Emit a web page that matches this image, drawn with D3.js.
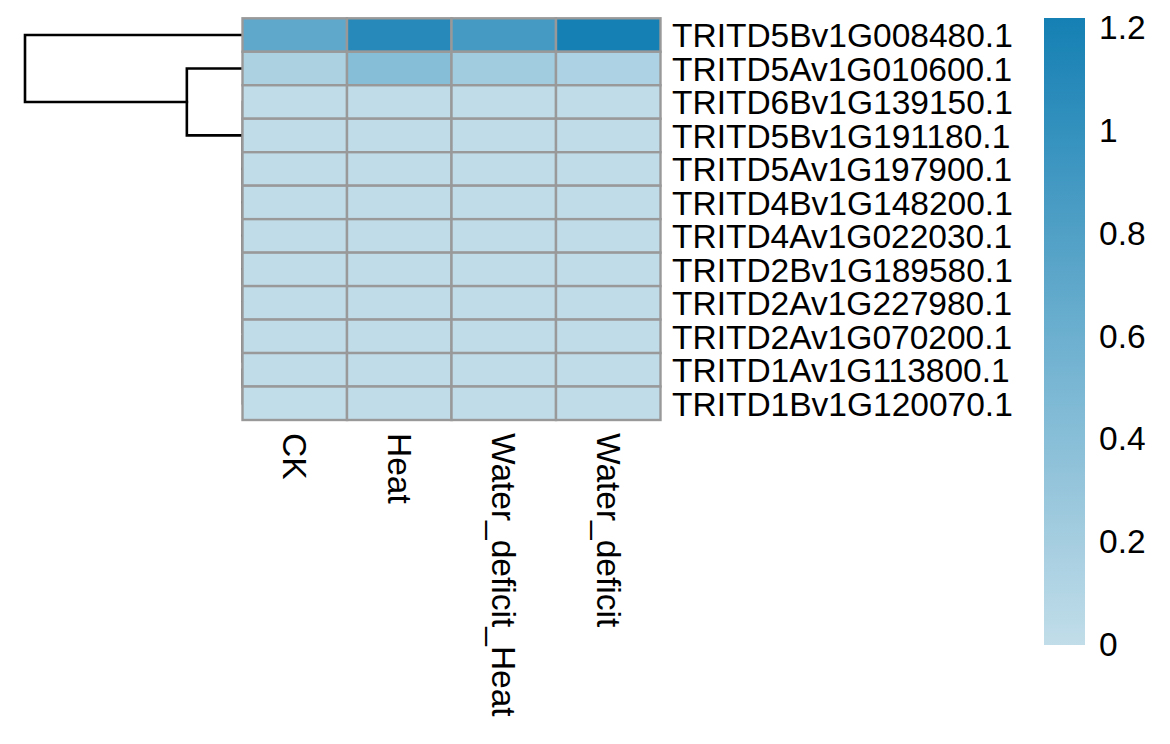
<!DOCTYPE html>
<html><head><meta charset="utf-8">
<script src="https://cdn.jsdelivr.net/npm/d3@7"></script>
<style>body{margin:0;background:#fff}text{font-family:"Liberation Sans",Arial,sans-serif;fill:#000}</style>
</head><body>
<svg id="c" width="1170" height="744"></svg>
<script>
const rowNames = [
  "TRITD5Bv1G008480.1","TRITD5Av1G010600.1","TRITD6Bv1G139150.1","TRITD5Bv1G191180.1",
  "TRITD5Av1G197900.1","TRITD4Bv1G148200.1","TRITD4Av1G022030.1","TRITD2Bv1G189580.1",
  "TRITD2Av1G227980.1","TRITD2Av1G070200.1","TRITD1Av1G113800.1","TRITD1Bv1G120070.1"
];
const colNames = ["CK","Heat","Water_deficit_Heat","Water_deficit"];
const values = [
  [0.69,1.10,0.88,1.22],
  [0.15,0.42,0.23,0.14],
  [0.01,0.01,0.01,0.01],
  [0.01,0.01,0.01,0.01],
  [0.01,0.01,0.01,0.01],
  [0.01,0.01,0.01,0.01],
  [0.01,0.01,0.01,0.01],
  [0.01,0.01,0.01,0.01],
  [0.01,0.01,0.01,0.01],
  [0.01,0.01,0.01,0.01],
  [0.01,0.01,0.01,0.01],
  [0.00,0.01,0.01,0.01]
];
// hclust-style merges: negative = leaf (1-based row), positive = earlier merge (1-based)
const rowMerges = [
  [-11,-12,0],[-10,1,0],[-9,2,0],[-8,3,0],[-7,4,0],[-6,5,0],[-5,6,0],[-4,7,0],[-3,8,0],
  [-2,9,0.51],[-1,10,1.98]
];
const legendTicks = [0,0.2,0.4,0.6,0.8,1,1.2];
const colorMin = 0, colorMax = 1.22;
const lowColor = "#c1dde9", highColor = "#1580b4";

const svg = d3.select("#c");
const x = d3.scaleBand().domain(colNames).range([242.5,660.5]);
const y = d3.scaleBand().domain(rowNames).range([18.3,420]);
const color = d3.scaleLinear().domain([colorMin,colorMax]).range([lowColor,highColor]).interpolate(d3.interpolateRgb).clamp(true);
const FS = 33.5;

// dendrogram (drawn first so the heatmap border covers zero-height branches)
const hx = d3.scaleLinear().domain([0,1.98]).range([243,25]);
const nodePos = [], nodeH = [];
function pos(id){ return id<0 ? y(rowNames[-id-1])+y.bandwidth()/2 : nodePos[id-1]; }
function hgt(id){ return id<0 ? 0 : nodeH[id-1]; }
const dg = svg.append("g").attr("fill","none").attr("stroke","#000").attr("stroke-width",2.6).attr("stroke-linecap","square");
rowMerges.forEach(([a,b,h])=>{
  const ya=pos(a), yb=pos(b);
  const path = d3.path();
  path.moveTo(hx(hgt(a)),ya); path.lineTo(hx(h),ya); path.lineTo(hx(h),yb); path.lineTo(hx(hgt(b)),yb);
  dg.append("path").attr("d",path.toString()).attr("stroke-linejoin","miter");
  nodePos.push((ya+yb)/2); nodeH.push(h);
});

// cells
const cells = [];
values.forEach((r,i)=>r.forEach((v,j)=>cells.push({r:rowNames[i],c:colNames[j],v})));
svg.append("g").selectAll("rect").data(cells).join("rect")
  .attr("x",d=>x(d.c)).attr("y",d=>y(d.r))
  .attr("width",x.bandwidth()).attr("height",y.bandwidth())
  .attr("fill",d=>color(d.v)).attr("stroke","#999999").attr("stroke-width",2.4);

// row labels
svg.append("g").selectAll("text").data(rowNames).join("text")
  .attr("x",672).attr("y",d=>y(d)+y.bandwidth()/2).attr("dy","0.37em")
  .attr("font-size",FS).text(d=>d);

// column labels
svg.append("g").selectAll("text").data(colNames).join("text")
  .attr("transform",d=>`translate(${x(d)+x.bandwidth()/2},433) rotate(90)`)
  .attr("dy","0.35em").attr("font-size",FS).text(d=>d);

// legend
const defs = svg.append("defs");
const grad = defs.append("linearGradient").attr("id","lg").attr("x1",0).attr("y1",1).attr("x2",0).attr("y2",0);
d3.range(0,1.0001,0.1).forEach(t=>grad.append("stop").attr("offset",t).attr("stop-color",color(colorMin+t*(colorMax-colorMin))));
const ly = d3.scaleLinear().domain([colorMin,colorMax]).range([645,18]);
svg.append("rect").attr("x",1044).attr("y",ly(colorMax)).attr("width",41).attr("height",ly(colorMin)-ly(colorMax)).attr("fill","url(#lg)");
svg.append("g").selectAll("text").data(legendTicks).join("text")
  .attr("x",1099).attr("y",d=>ly(d)).attr("dy","0.33em").attr("font-size",FS).text(d=>String(d));
</script>
</body></html>
